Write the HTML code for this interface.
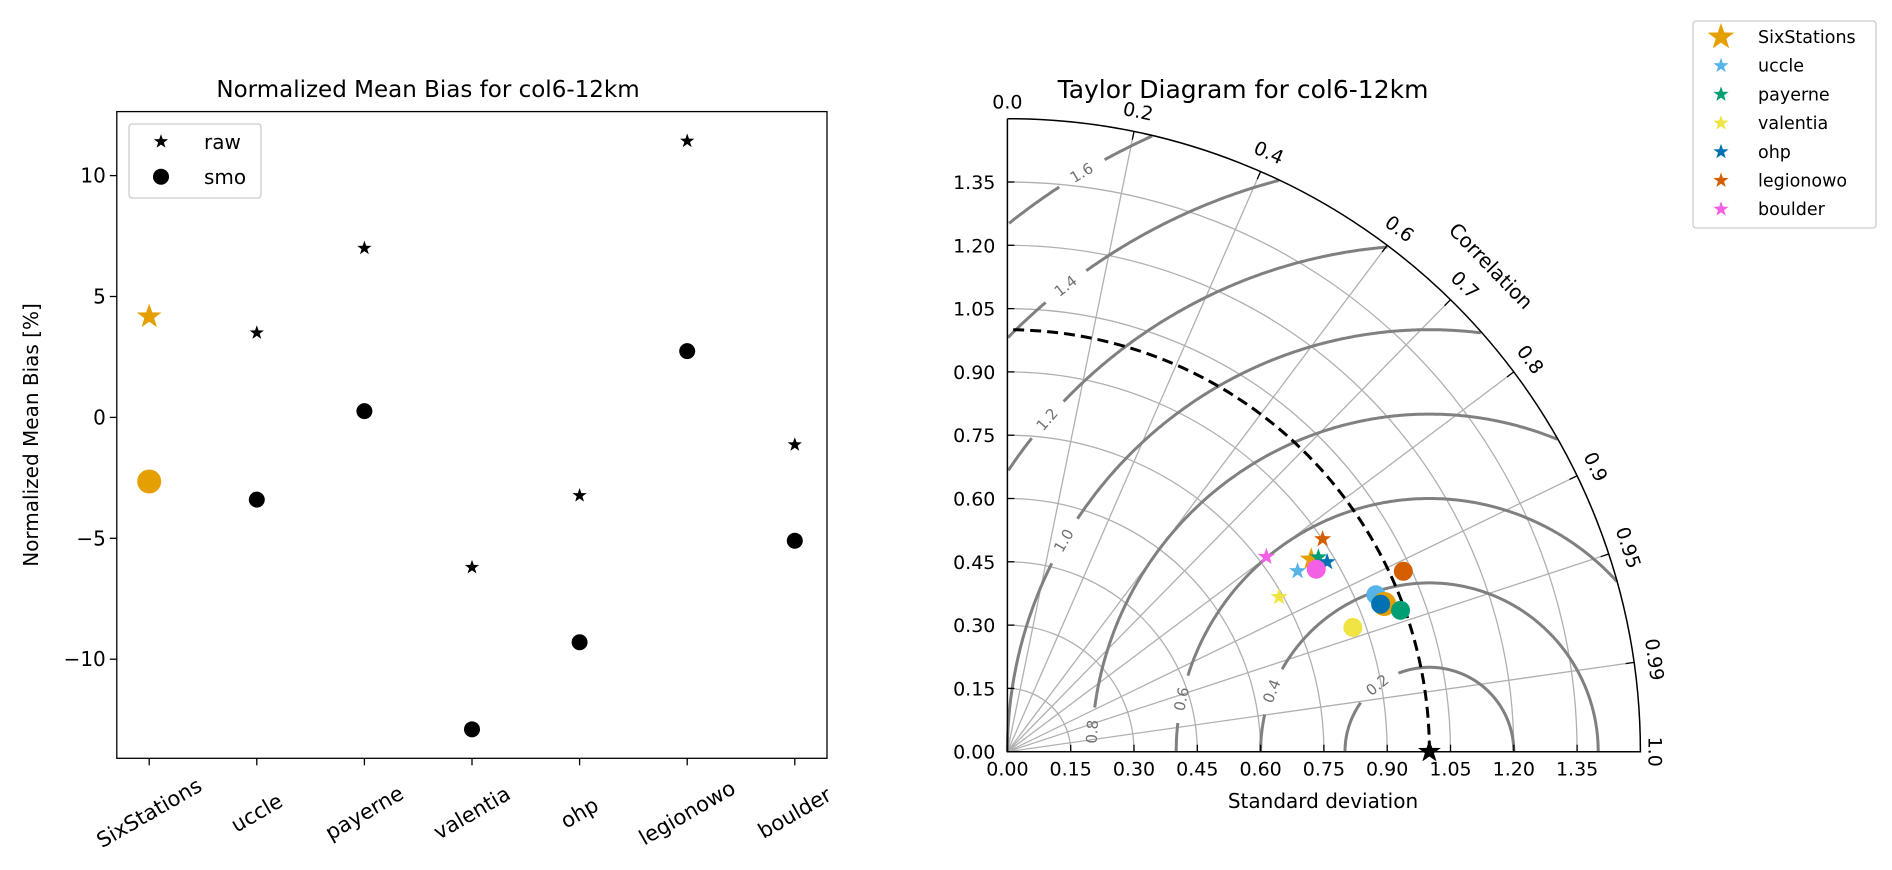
<!DOCTYPE html>
<html><head><meta charset="utf-8">
<style>
html,body{margin:0;padding:0;background:#fff;}
svg{display:block;font-family:"DejaVu Sans","Liberation Sans",sans-serif;}
</style></head>
<body>
<svg id="fig" width="1892" height="870" viewBox="0 0 1892 870" xmlns="http://www.w3.org/2000/svg">
<rect width="1892" height="870" fill="#fff"/>
<g id="left"></g>
<g id="taylor"></g>
<g id="legend2"></g>
</svg>
<script>
const NS="http://www.w3.org/2000/svg";
// ---------- data ----------
const stations=["SixStations","uccle","payerne","valentia","ohp","legionowo","boulder"];
const rawBias=[4.17,3.5,7.0,-6.2,-3.23,11.43,-1.13];
const smoBias=[-2.65,-3.4,0.26,-12.9,-9.3,2.74,-5.1];
const biasTicks=[-10,-5,0,5,10];
const rawStd=[0.852,0.810,0.869,0.741,0.881,0.901,0.768];
const rawCorr=[0.845,0.849,0.848,0.869,0.860,0.829,0.799];
const smoStd=[0.959,0.949,0.990,0.870,0.951,1.031,0.850];
const smoCorr=[0.931,0.920,0.941,0.941,0.930,0.910,0.861];
const stdTicks=[0,0.15,0.30,0.45,0.60,0.75,0.90,1.05,1.20,1.35];
const corrTicks=[0.2,0.4,0.6,0.7,0.8,0.9,0.95,0.99];
const rmsLevels=[0.2,0.4,0.6,0.8,1.0,1.2,1.4,1.6];
const rmsLabelAngles=[128,159,168,176.6,150,139,128,121];
const colors=["#E69F00","#56B4E9","#009E73","#F0E442","#0072B2","#D55E00","#F35FE5"];

function el(tag,attrs,parent,text){const e=document.createElementNS(NS,tag);for(const k in attrs)e.setAttribute(k,attrs[k]);if(text!==undefined)e.textContent=text;parent.appendChild(e);return e;}
function starPath(cx,cy,R){let d="";for(let i=0;i<10;i++){const r=i%2?R*0.4:R;const a=-Math.PI/2+i*Math.PI/5;d+=(i?"L":"M")+(cx+r*Math.cos(a)).toFixed(2)+","+(cy+r*Math.sin(a)).toFixed(2);}return d+"Z";}
const fmtMinus=v=>(v<0?"\u2212":"")+Math.abs(v);

// ---------- left chart ----------
const L=document.getElementById("left");
const lx0=116.8,lx1=827,ly0=111.6,ly1=758.3;
const xL=i=>149.2+i*107.6;
const yL=v=>417.4-v*24.18;
let t=el("text",{x:428,y:97,"text-anchor":"middle","font-size":"23"},L,"Normalized Mean Bias for col6-12km");

biasTicks.forEach(v=>{
  const tk=el("line",{x1:lx0-7,x2:lx0,y1:yL(v),y2:yL(v),stroke:"#000","stroke-width":1.3},L);
  
  const lb=el("text",{x:lx0-11,y:yL(v)+7,"text-anchor":"end","font-size":"20"},L,fmtMinus(v));
  
});
stations.forEach((s,i)=>{
  const tk=el("line",{x1:xL(i),x2:xL(i),y1:ly1,y2:ly1+7,stroke:"#000","stroke-width":1.3},L);
  
  const lb=el("text",{x:xL(i),y:813,"text-anchor":"middle","dominant-baseline":"central","font-size":"21",transform:`rotate(-30 ${xL(i)} 813)`},L,s);
  
});
t=el("text",{x:0,y:0,"text-anchor":"middle","font-size":"20",transform:"translate(38 435) rotate(-90)"},L,"Normalized Mean Bias [%]");

stations.forEach((s,i)=>{
  const big=i===0;
  const st=el("path",{d:starPath(xL(i),yL(rawBias[i]),big?13:7.5),fill:big?colors[0]:"#000"},L);
  
  const c=el("circle",{cx:xL(i),cy:yL(smoBias[i]),r:big?12:8,fill:big?colors[0]:"#000"},L);
  
});
t=el("rect",{x:lx0,y:ly0,width:lx1-lx0,height:ly1-ly0,fill:"none",stroke:"#000","stroke-width":1.3},L);

const lg=el("g",{},L);

el("rect",{x:129,y:124,width:132,height:74,rx:3,fill:"#fff",stroke:"#ccc","stroke-width":1.3},lg);
el("path",{d:starPath(161,141.6,7.5),fill:"#000"},lg);
el("text",{x:204,y:149,"font-size":"20"},lg,"raw");
el("circle",{cx:161,cy:176.7,r:8,fill:"#000"},lg);
el("text",{x:204,y:184,"font-size":"20"},lg,"smo");

// ---------- taylor ----------
const T=document.getElementById("taylor");
const OX=1007.4,OY=751.7,U=422,SMAX=1.5;
const px=(x)=>OX+x*U, py=(y)=>OY-y*U;
const P=(s,c)=>[px(s*c),py(s*Math.sqrt(Math.max(0,1-c*c)))];
t=el("text",{x:1243,y:98,"text-anchor":"middle","font-size":"25"},T,"Taylor Diagram for col6-12km");

stdTicks.slice(1).forEach(s=>{
  const a=el("path",{d:`M${px(s)},${OY} A${s*U},${s*U} 0 0 0 ${OX},${py(s)}`,fill:"none",stroke:"#b0b0b0","stroke-width":1.3},T);
  
});
corrTicks.forEach(c=>{
  const [x2,y2]=P(SMAX,c);
  const r=el("line",{x1:OX,y1:OY,x2:x2,y2:y2,stroke:"#b0b0b0","stroke-width":1.3},T);
  
});
rmsLevels.forEach((r,k)=>{
  const la=rmsLabelAngles[k]*Math.PI/180;
  const gap=24/(r*U);
  let segs=[],cur=[];
  for(let d=0;d<=180;d+=0.25){
    const a=d*Math.PI/180;
    const x=1+r*Math.cos(a),y=r*Math.sin(a);
    const inside=x>=0&&y>=0&&Math.hypot(x,y)<=SMAX&&Math.abs(a-la)>gap;
    if(inside)cur.push(px(x).toFixed(1)+","+py(y).toFixed(1));
    else if(cur.length){segs.push(cur);cur=[];}
  }
  if(cur.length)segs.push(cur);
  segs.forEach(sg=>{
    if(sg.length<2)return;
    const p=el("polyline",{points:sg.join(" "),fill:"none",stroke:"#808080","stroke-width":3},T);
    
  });
  const lxp=px(1+r*Math.cos(la)),lyp=py(r*Math.sin(la));
  let rot=-(rmsLabelAngles[k]-90);
  const lb=el("text",{x:lxp,y:lyp,"text-anchor":"middle","dominant-baseline":"central","font-size":"15",fill:"#707070",transform:`rotate(${rot} ${lxp} ${lyp})`},T,r.toFixed(1));
  
});
t=el("path",{d:`M${px(1)},${OY} A${U},${U} 0 0 0 ${OX},${py(1)}`,fill:"none",stroke:"#000","stroke-width":3,"stroke-dasharray":"11 6"},T);

t=el("path",{d:`M${OX},${py(SMAX)} L${OX},${OY} L${px(SMAX)},${OY} A${SMAX*U},${SMAX*U} 0 0 0 ${OX},${py(SMAX)}`,fill:"none",stroke:"#000","stroke-width":1.5},T);

stdTicks.forEach(s=>{
  el("line",{x1:px(s),x2:px(s),y1:OY,y2:OY-7,stroke:"#000","stroke-width":1.3},T);
  const bl=el("text",{x:px(s),y:OY+24,"text-anchor":"middle","font-size":"19"},T,s.toFixed(2));
  
  el("line",{x1:OX,x2:OX+7,y1:py(s),y2:py(s),stroke:"#000","stroke-width":1.3},T);
  const yl=el("text",{x:OX-12,y:py(s)+7,"text-anchor":"end","font-size":"19"},T,s.toFixed(2));
  
});
corrTicks.forEach(c=>{
  const th=Math.acos(c);
  const [x1,y1]=P(SMAX,c),[x2,y2]=P(SMAX-0.02,c);
  el("line",{x1:x1,y1:y1,x2:x2,y2:y2,stroke:"#000","stroke-width":1.3},T);
  const rr=SMAX*U+20;
  const lx=OX+rr*Math.cos(th),ly=OY-rr*Math.sin(th);
  const rot=90-th*180/Math.PI;
  const lb=el("text",{x:lx,y:ly,"text-anchor":"middle","dominant-baseline":"central","font-size":"19",transform:`rotate(${rot} ${lx} ${ly})`},T,String(c));
  
});
t=el("text",{x:OX,y:py(SMAX)-10,"text-anchor":"middle","font-size":"19"},T,"0.0");

t=el("text",{x:px(SMAX)+14,y:OY,"text-anchor":"middle","dominant-baseline":"central","font-size":"19",transform:`rotate(90 ${px(SMAX)+14} ${OY})`},T,"1.0");

t=el("text",{x:1491,y:266,"text-anchor":"middle","dominant-baseline":"central","font-size":"20",transform:"rotate(46 1491 266)"},T,"Correlation");

t=el("text",{x:1323,y:808,"text-anchor":"middle","font-size":"20"},T,"Standard deviation");

t=el("path",{d:starPath(px(1),OY,12),fill:"#000"},T);

stations.forEach((s,i)=>{
  const [x,y]=P(rawStd[i],rawCorr[i]);
  const m=el("path",{d:starPath(x,y,i===0?12:9),fill:colors[i]},T);
  
});
[1,0,2,3,4,5,6].forEach(i=>{
  const [x,y]=P(smoStd[i],smoCorr[i]);
  const m=el("circle",{cx:x,cy:y,r:i===0?12:9.5,fill:colors[i]},T);
  
});
// ---------- right legend ----------
const G=document.getElementById("legend2");
el("rect",{x:1693,y:21,width:183,height:207,rx:3,fill:"#fff",stroke:"#ccc","stroke-width":1.3},G);
stations.forEach((s,i)=>{
  const y=37+i*28.7;
  const e=el("g",{},G);
  
  el("path",{d:starPath(1721,y,i===0?14:8),fill:colors[i]},e);
  el("text",{x:1758,y:y+6,"font-size":"17.5"},e,s);
});
</script>
</body></html>
